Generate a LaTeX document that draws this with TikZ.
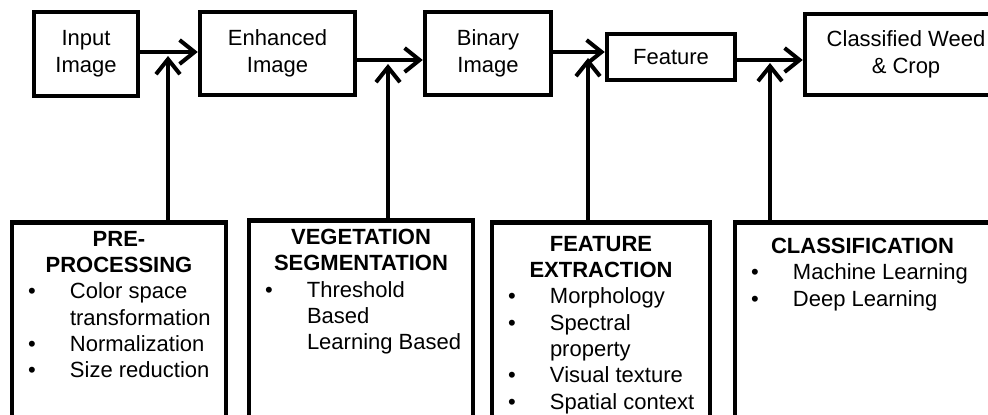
\documentclass[tikz,border=0pt]{standalone}
\usepackage{fontspec}
\setmainfont{Liberation Sans}
\usetikzlibrary{arrows.meta,positioning}

% bullet item with hanging indent
\newcommand{\bitem}[1]{\par\hangindent=48pt\hangafter=1\noindent\makebox[48pt][l]{\hspace{6pt}\textbullet}#1}
% heading plus items, fixed height
\newcommand{\stagetext}[3]{\parbox[t][215pt][t]{#1}{\fontsize{22}{26.3}\selectfont{\centering\bfseries #2\par}\raggedright #3}}

\tikzset{
  block/.style={draw, line width=4.5pt, align=center, font=\fontsize{22}{27}\selectfont, inner sep=2pt},
  stage/.style={draw, line width=4.5pt, anchor=north, inner xsep=10pt, inner ysep=9pt},
  flow/.style={line width=4pt, -{Straight Barb[length=15pt,width=24pt]}}
}

\begin{document}
\begin{tikzpicture}[x=1pt, y=-1pt]
\useasboundingbox (0,0) rectangle (988,415);
\clip (0,0) rectangle (988,415);

% Top row
\node[block, minimum width=104pt, minimum height=84pt] (input) at (86,54) {Input\\Image};
\node[block, minimum width=155pt, minimum height=83pt] (enhanced) at (277.5,53.5) {Enhanced\\Image};
\node[block, minimum width=126pt, minimum height=83pt] (binary) at (488,53.5) {Binary\\Image};
\node[block, minimum width=128pt, minimum height=46pt] (feature) at (671,57) {Feature};
\node[block, minimum width=202pt, minimum height=81pt] (classified) at (906,54.5) {Classified Weed\\\& Crop};

% Bottom boxes
\node[stage] (prep) at (119,220) {\stagetext{194pt}{PRE-\\PROCESSING}{%
  \bitem{Color space\newline transformation}\bitem{Normalization}\bitem{Size reduction}}};
\node[stage] (vegseg) at (361,218) {\stagetext{204pt}{VEGETATION\\SEGMENTATION}{%
  \bitem{Threshold\newline Based\newline Learning Based}}};
\node[stage, inner ysep=14pt] (featext) at (601,220) {\stagetext{198pt}{FEATURE\\EXTRACTION}{%
  \bitem{Morphology}\bitem{Spectral\newline property}\bitem{Visual texture}\bitem{Spatial context}}};
\node[stage, inner ysep=16pt] (classif) at (862.5,220) {\stagetext{235pt}{CLASSIFICATION}{%
  \bitem{Machine Learning}\bitem{Deep Learning}}};

% Arrows along the top
\draw[flow] ([yshift=2pt]input.east) -- ([yshift=2pt]input.east -| enhanced.west);
\draw[flow] ([yshift=-6.5pt]enhanced.east) -- ([yshift=-6.5pt]enhanced.east -| binary.west);
\draw[flow] ([yshift=1.5pt]binary.east) -- ([yshift=1.5pt]binary.east -| feature.west);
\draw[flow] ([yshift=-3pt]feature.east) -- ([yshift=-3pt]feature.east -| classified.west);

% Arrows up from the stages
\coordinate (j1) at (168,56);
\coordinate (j2) at (388,64);
\coordinate (j3) at (588,58);
\coordinate (j4) at (770,63);
\draw[flow] (prep.north -| j1) -- (j1);
\draw[flow] (vegseg.north -| j2) -- (j2);
\draw[flow] (featext.north -| j3) -- (j3);
\draw[flow] (classif.north -| j4) -- (j4);

\end{tikzpicture}
\end{document}
